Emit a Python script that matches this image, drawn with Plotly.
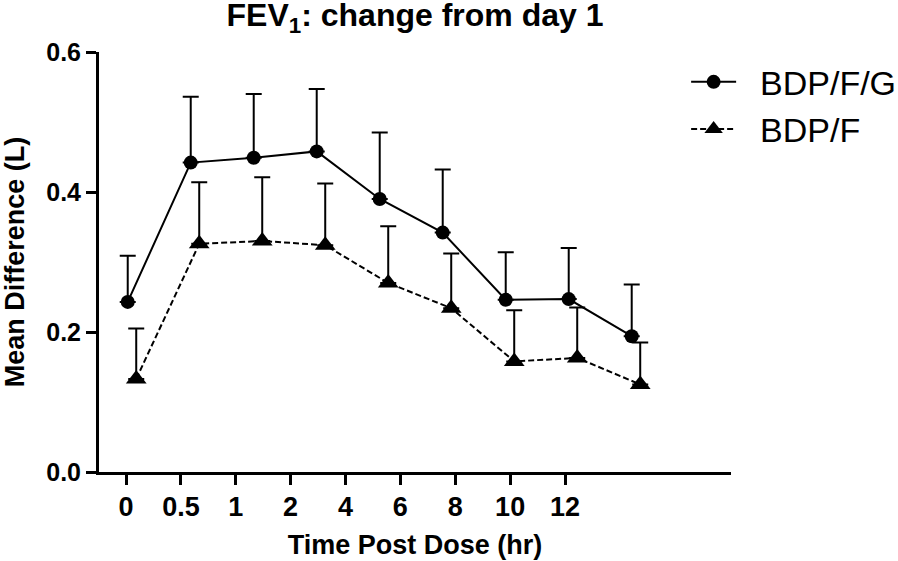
import plotly.graph_objects as go

# ---- data ----
time_labels = ["0", "0.5", "1", "2", "4", "6", "8", "10", "12"]
bdpfg_mean = [0.243, 0.442, 0.449, 0.458, 0.390, 0.342, 0.246, 0.247, 0.194]
bdpfg_err = [0.066, 0.094, 0.091, 0.089, 0.095, 0.090, 0.068, 0.073, 0.074]
bdpf_mean = [0.133, 0.326, 0.330, 0.324, 0.270, 0.234, 0.158, 0.163, 0.125]
bdpf_err = [0.072, 0.088, 0.091, 0.088, 0.081, 0.078, 0.073, 0.072, 0.060]
series_names = ["BDP/F/G", "BDP/F"]

FONT = "Liberation Sans, Arial, Helvetica, sans-serif"
PAD = "\u00a0\u00a0"  # gap between legend symbol and legend text

n = len(time_labels)
x_circ = list(range(n))
x_tri = [i + 0.135 for i in range(n)]          # slight horizontal offset of the triangles
tick_pos = [-0.027 + 0.871 * i for i in range(n)]  # tick marks as placed in the reference

fig = go.Figure()
fig.add_trace(go.Scatter(
    x=x_circ, y=bdpfg_mean, name=PAD + series_names[0], legendgroup="a",
    mode="lines+markers",
    line=dict(color="black", width=2),
    marker=dict(symbol="circle", size=14, color="black"),
    error_y=dict(type="data", symmetric=False, array=bdpfg_err,
                 arrayminus=[0] * n, color="black", thickness=2, width=8),
))
fig.add_trace(go.Scatter(
    x=x_tri, y=bdpf_mean, name=PAD + series_names[1], legendgroup="b",
    mode="lines+markers",
    line=dict(color="black", width=2, dash="6px,3px"),
    marker=dict(symbol="triangle-up", size=18, color="black"),
    error_y=dict(type="data", symmetric=False, array=bdpf_err,
                 arrayminus=[0] * n, color="black", thickness=2, width=8),
))

fig.update_layout(
    width=898, height=561,
    margin=dict(l=99, r=167, t=52, b=89, autoexpand=False),
    paper_bgcolor="white", plot_bgcolor="white",
    font=dict(family=FONT, color="black"),
    title=dict(text="FEV<sub>1</sub>: change from day 1",
               font=dict(size=32, family=FONT, weight="bold", color="black"),
               x=415 / 898, xanchor="center", xref="container",
               y=0.993, yanchor="top", yref="container"),
    showlegend=True,
    legend=dict(x=0.929, y=0.997, xanchor="left", yanchor="top",
                font=dict(size=34, family=FONT, color="black"),
                bgcolor="rgba(0,0,0,0)", itemwidth=45,
                tracegroupgap=0, traceorder="grouped"),
)

fig.update_xaxes(
    range=[-0.456, 9.576], showgrid=False, zeroline=False, automargin=False,
    showline=True, linecolor="black", linewidth=3,
    tickmode="array", tickvals=tick_pos, ticktext=time_labels,
    ticks="outside", ticklen=10, tickwidth=3, tickcolor="black",
    ticklabelstandoff=-1,
    tickfont=dict(size=27, family=FONT, weight="bold", color="black"),
    title=dict(text="Time Post Dose (hr)", standoff=14,
               font=dict(size=27, family=FONT, weight="bold", color="black")),
)
fig.update_yaxes(
    range=[0, 0.6], showgrid=False, zeroline=False, automargin=False,
    showline=True, linecolor="black", linewidth=3,
    tickmode="array", tickvals=[0, 0.2, 0.4, 0.6], tickformat=".1f",
    ticks="outside", ticklen=10, tickwidth=3, tickcolor="black",
    tickfont=dict(size=25, family=FONT, weight="bold", color="black"),
    title=dict(text="Mean Difference (L)", standoff=14,
               font=dict(size=27, family=FONT, weight="bold", color="black")),
)

fig.write_html("out.html", config={"displayModeBar": False},
               post_script="document.body.style.margin='0';")
